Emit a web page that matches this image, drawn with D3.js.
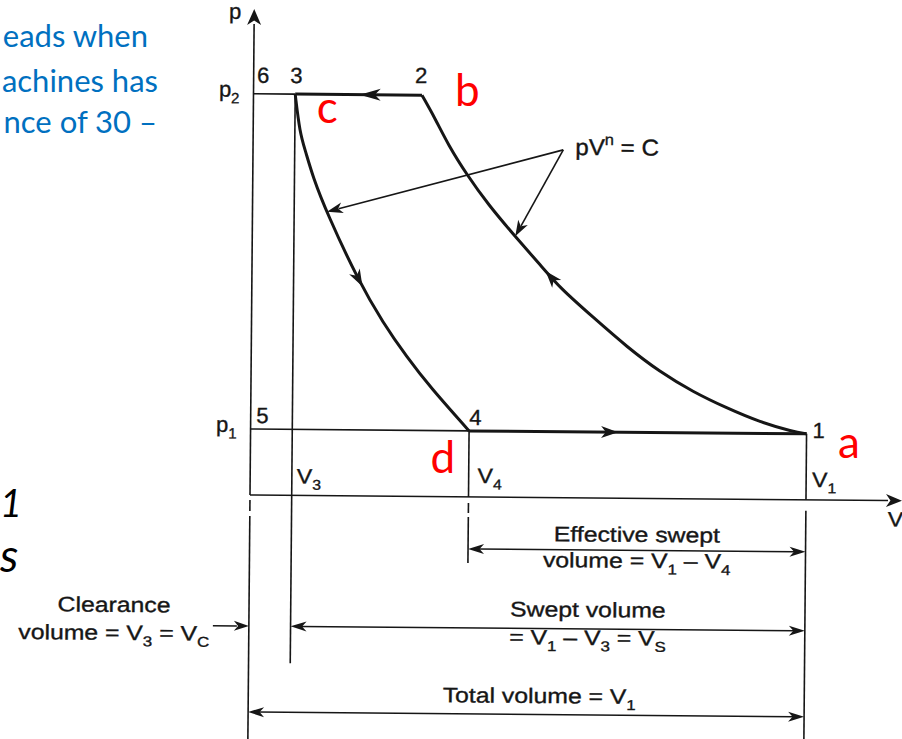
<!DOCTYPE html>
<html>
<head>
<meta charset="utf-8">
<script src="https://cdn.jsdelivr.net/npm/d3@7"></script>
<style>
    body { margin: 0; background: #fff; }
    svg { display: block; }
</style>
</head>
<body>
<script>
// p-V diagram of a single stage reciprocating compressor (with clearance)
// V in % of V1, p in units of p1

var stateNames = ["1", "2", "3", "4", "5", "6"]
var stateV = [100, 30.3, 7.5, 39.3, 0, 0]
var stateP = [1.0, 6.08, 6.08, 1.0, 1.0, 6.08]

// expansion of clearance gas 3 -> 4
var expansionV = [7.5, 8.4, 9.4, 10.8, 13.4, 19.1, 23.7, 28.0, 32.2, 39.3]
var expansionP = [6.08, 5.49, 5.23, 4.83, 4.28, 3.27, 2.62, 2.11, 1.66, 1.0]

// compression 1 -> 2 (listed from 2 to 1)
var compressionV = [30.3, 32.7, 35.1, 38.5, 42.4, 47.3, 52.1, 55.4, 61.4, 67.6, 73.5, 79.5, 85.6, 91.6, 97.6, 100]
var compressionP = [6.08, 5.73, 5.33, 4.88, 4.43, 3.95, 3.50, 3.18, 2.74, 2.29, 1.92, 1.62, 1.38, 1.17, 1.03, 1.0]

// axis labels
var pLevels = [1.0, 6.08]
var pLevelSubs = ["1", "2"]
var vMarks = [7.5, 39.3, 100]
var vMarkSubs = ["3", "4", "1"]

// red letters put on the slide, for states 1..4
var cycleLetters = ["a", "b", "c", "d"]

// slide text cut by the picture edge
var slideLines = ["achines has", "eads when", "nce of 30 –"]
var sideGlyphs = ["1", "s"]

var W = 902, H = 739
var ink = "#161616"

var svg = d3.select("body").append("svg")
    .attr("width", W)
    .attr("height", H)

svg.append("rect").attr("width", W).attr("height", H).attr("fill", "#fff")

var x = d3.scaleLinear().domain([0, 100]).range([250, 806])
var y = d3.scaleLinear().domain([0, 6.08]).range([495, 93.7])

// the scanned figure is a little tilted
var g = svg.append("g").attr("transform", "rotate(0.5,250,495)")

function seg(parent, x1, y1, x2, y2, w) {
    return parent.append("line")
        .attr("x1", x1).attr("y1", y1)
        .attr("x2", x2).attr("y2", y2)
        .attr("stroke", ink)
        .attr("stroke-width", w || 1.6)
}

function head(parent, tx, ty, ang, len, wid) {
    parent.append("path")
        .attr("d", "M0,0L" + (-len) + "," + (-wid / 2) + "L" + (-len * 0.72) + ",0L" + (-len) + "," + (wid / 2) + "Z")
        .attr("transform", "translate(" + tx + "," + ty + ") rotate(" + ang + ")")
        .attr("fill", ink)
}

// parts: strings, or [string, "sub" | "sup"]
function txt(parent, parts, tx, ty, size, anchor, sx) {
    var t = parent.append("text")
        .attr("transform", "translate(" + tx + "," + ty + ") scale(" + (sx || 1) + ",1)")
        .attr("text-anchor", anchor || "start")
        .attr("font-family", "'Liberation Sans', Arial, Helvetica, sans-serif")
        .attr("font-size", size)
        .attr("fill", ink)
        .attr("stroke", ink)
        .attr("stroke-width", 0.35)
    var shift = 0
    parts.forEach(function (p) {
        var s = typeof p === "string" ? p : p[0]
        var kind = typeof p === "string" ? null : p[1]
        var target = kind === "sub" ? size * 0.3 : kind === "sup" ? -size * 0.45 : 0
        t.append("tspan")
            .attr("dy", target - shift)
            .attr("font-size", kind ? size * 0.68 : size)
            .text(s)
        shift = target
    })
    return t
}

function dim(parent, xa, xb, yy) {
    seg(parent, xa + 10, yy, xb - 10, yy, 1.5)
    head(parent, xa, yy, 180, 16, 10)
    head(parent, xb, yy, 0, 16, 10)
}

// point on a path (x increasing along it) at a given screen x
function along(node, px) {
    var lo = 0, hi = node.getTotalLength()
    for (var i = 0; i < 40; i++) {
        var mid = (lo + hi) / 2
        if (node.getPointAtLength(mid).x < px) lo = mid
        else hi = mid
    }
    var p = node.getPointAtLength(lo)
    var a = node.getPointAtLength(Math.max(lo - 2, 0))
    var b = node.getPointAtLength(lo + 2)
    return {x: p.x, y: p.y, ang: Math.atan2(b.y - a.y, b.x - a.x) * 180 / Math.PI}
}

var x0 = x(0), y0 = y(0)
var V1 = stateV[0], V2 = stateV[1], V3 = stateV[2], V4 = stateV[3]
var p1 = stateP[0], p2 = stateP[1]

// axes
seg(g, x0, 24, x0, y0)
head(g, x0, 9, -90, 16, 14)
seg(g, x0, y0, 888, y0)
head(g, 902, y0, 0, 16, 13)

// extension lines below the V axis
seg(g, x0, 500, x0, 511)
seg(g, x0, 516, x0, 745)
seg(g, x(V3), y(p2), x(V3), 663)
seg(g, x(V4), y(p1), x(V4), y0)
seg(g, x(V4), 501, x(V4), 511)
seg(g, x(V4), 515, x(V4), 561)
seg(g, x(V1), y(p1), x(V1), y0)
seg(g, x(V1), 506, x(V1), 745)

// thin pressure lines 6-3 and 5-4
seg(g, x0, y(p2), x(V3), y(p2))
seg(g, x0, y(p1), x(V4), y(p1))

// cycle
var line = d3.line()
    .x(function (d) { return x(d[0]) })
    .y(function (d) { return y(d[1]) })
    .curve(d3.curveBasis)

var expPath = g.append("path")
    .datum(d3.zip(expansionV, expansionP))
    .attr("d", line)
    .attr("fill", "none")
    .attr("stroke", ink)
    .attr("stroke-width", 3)

var compPath = g.append("path")
    .datum(d3.zip(compressionV, compressionP))
    .attr("d", line)
    .attr("fill", "none")
    .attr("stroke", ink)
    .attr("stroke-width", 3)

seg(g, x(V3), y(p2), x(V2), y(p2), 3)
seg(g, x(V4), y(p1), x(V1), y(p1), 3)

// direction arrows
head(g, x(19.1), y(p2), 180, 21, 12)
head(g, x(66.1), y(p1), 0, 17, 12)
var ea = along(expPath.node(), x(19.9))
head(g, ea.x, ea.y, ea.ang, 17, 12)
var ca = along(compPath.node(), x(52.8))
head(g, ca.x, ca.y, ca.ang + 180, 17, 12)

// pV^n = C leaders
var vx = x(55.8), vy = y(5.27)
;[along(expPath.node(), x(13.4)), along(compPath.node(), x(47.3))].forEach(function (t) {
    var a = Math.atan2(t.y - vy, t.x - vx)
    seg(g, vx, vy, t.x - 12 * Math.cos(a), t.y - 12 * Math.sin(a), 1.6)
    head(g, t.x, t.y, a * 180 / Math.PI, 16, 11)
})
txt(g, ["pV", ["n", "sup"], " = C"], vx + 12, vy + 5, 23, "start", 1.05)

// labels
txt(g, ["p"], x0 - 19, 19, 22, "middle")
pLevels.forEach(function (p, i) {
    txt(g, ["p", [pLevelSubs[i], "sub"]], x0 - 14, y(p) + 3, 22, "end")
})
txt(g, [stateNames[5]], x0 + 3.5, y(p2) - 11, 22)
txt(g, [stateNames[2]], x(V3) + 1, y(p2) - 11, 22, "middle")
txt(g, [stateNames[1]], x(V2) - 1, y(p2) - 12, 22, "middle")
txt(g, [stateNames[4]], x0 + 5.5, y(p1) - 6, 22)
txt(g, [stateNames[3]], x(V4), y(p1) - 6, 22)
txt(g, [stateNames[0]], x(V1) + 6, y(p1) + 4, 22)

var vOff = [[5, -12], [9, -14], [6, -13]]
vMarks.forEach(function (v, i) {
    txt(g, ["V", [vMarkSubs[i], "sub"]], x(v) + vOff[i][0], y0 + vOff[i][1], 21, "start", 1.1)
})
txt(g, ["V"], x(V1) + 82, y0 + 26, 21, "start", 1.1)

// volume dimensions
var s = 1.18
var yEff = 547, ySw = 626, yTot = 712
dim(g, x(V4), x(V1), yEff)
txt(g, ["Effective swept"], (x(V4) + x(V1)) / 2, yEff - 8.5, 21, "middle", s)
txt(g, ["volume = V", ["1", "sub"], " – V", ["4", "sub"]], (x(V4) + x(V1)) / 2, yEff + 17.5, 21, "middle", s)

dim(g, x(V3), x(V1), ySw)
txt(g, ["Swept volume"], (x(V3) + x(V1)) / 2 + 40, ySw - 12, 21, "middle", s)
txt(g, ["= V", ["1", "sub"], " – V", ["3", "sub"], " = V", ["S", "sub"]], (x(V3) + x(V1)) / 2 + 40, ySw + 16, 21, "middle", s)

dim(g, x0, x(V1), yTot)
txt(g, ["Total volume = V", ["1", "sub"]], (x0 + x(V1)) / 2 + 13, yTot - 11.5, 21, "middle", s)

seg(g, x0 - 36, ySw, x0 - 12, ySw, 1.5)
head(g, x0, ySw, 0, 15, 10)
txt(g, ["Clearance"], x0 - 135, ySw - 13, 21, "middle", s)
txt(g, ["volume = V", ["3", "sub"], " = V", ["C", "sub"]], x0 - 135, ySw + 15, 21, "middle", s)

// slide overlay (not tilted)
var letterOff = [[32, 29], [36.5, 12], [25, 29], [-38, 44]]
cycleLetters.forEach(function (c, i) {
    svg.append("text")
        .attr("x", x(stateV[i]) + letterOff[i][0])
        .attr("y", y(stateP[i]) + letterOff[i][1])
        .attr("font-family", "Lato, 'Open Sans', sans-serif")
        .attr("font-size", 44)
        .attr("fill", "#ff0000")
        .text(c)
})

var lineEnds = [[158, 91.7], [148, 46.7], [157, 133]]
slideLines.forEach(function (t, i) {
    svg.append("text")
        .attr("x", lineEnds[i][0])
        .attr("y", lineEnds[i][1])
        .attr("text-anchor", "end")
        .attr("font-family", "Lato, 'Open Sans', sans-serif")
        .attr("font-size", 31)
        .attr("fill", "#0070c0")
        .text(t)
})

var glyphPos = [[0, 517, 38], [0, 572, 46]]
sideGlyphs.forEach(function (t, i) {
    svg.append("text")
        .attr("x", glyphPos[i][0])
        .attr("y", glyphPos[i][1])
        .attr("font-family", "Lato, 'Open Sans', sans-serif")
        .attr("font-style", "italic")
        .attr("font-size", glyphPos[i][2])
        .attr("fill", "#000")
        .text(t)
})
</script>
</body>
</html>
